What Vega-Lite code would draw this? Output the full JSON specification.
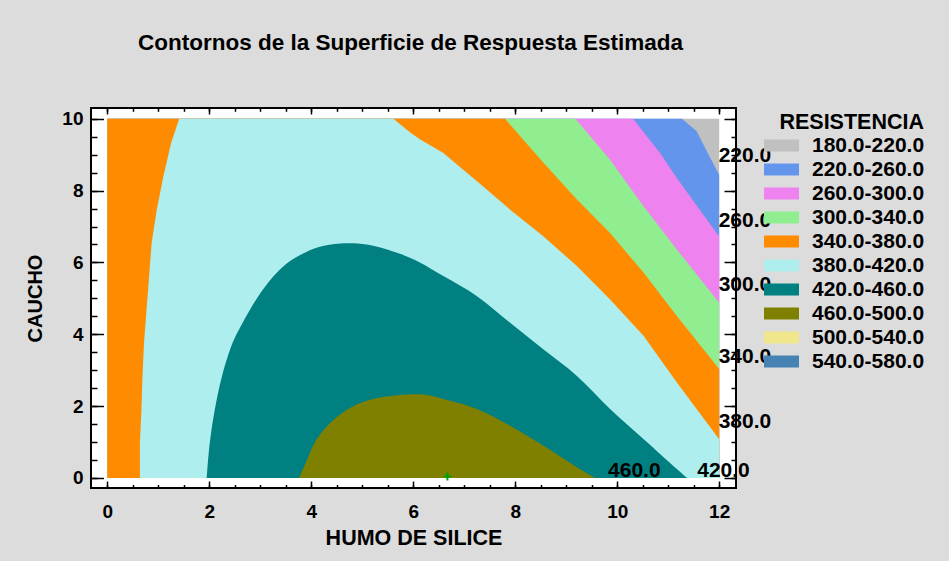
{
  "$schema": "https://vega.github.io/schema/vega-lite/v6.json",
  "width": 645,
  "height": 380,
  "autosize": {"type": "none"},
  "padding": {"left": 91, "top": 108, "right": 213, "bottom": 73},
  "background": "#dcdcdc",
  "title": {
    "text": "Contornos de la Superficie de Respuesta Estimada",
    "font": "Liberation Sans", "fontSize": 22.5, "fontWeight": "bold", "color": "black",
    "anchor": "middle", "baseline": "alphabetic", "offset": 35, "dx": -3
  },
  "config": {
    "view": {"fill": "white", "stroke": "black", "strokeWidth": 2},
    "axis": {
      "labelFont": "Liberation Sans", "labelFontSize": 19, "labelFontWeight": "bold", "labelColor": "black",
      "titleFont": "Liberation Sans", "titleFontSize": 20, "titleFontWeight": "bold", "titleColor": "black",
      "domain": false, "grid": false, "tickColor": "black", "tickWidth": 1.5, "labelFlush": false, "zindex": 1
    }
  },
  "layer": [
    {
      "data": {"values": [
        {"b": "180.0-220.0", "o": 0, "x": 0, "y": 0},
        {"b": "180.0-220.0", "o": 1, "x": 0, "y": 10},
        {"b": "180.0-220.0", "o": 2, "x": 12, "y": 10},
        {"b": "180.0-220.0", "o": 3, "x": 12, "y": 0},

        {"b": "220.0-260.0", "o": 0, "x": 0, "y": 0},
        {"b": "220.0-260.0", "o": 1, "x": 0, "y": 10},
        {"b": "220.0-260.0", "o": 2, "x": 11.27, "y": 10},
        {"b": "220.0-260.0", "o": 3, "x": 11.56, "y": 9.65},
        {"b": "220.0-260.0", "o": 4, "x": 11.76, "y": 9.09},
        {"b": "220.0-260.0", "o": 5, "x": 12, "y": 8.44},
        {"b": "220.0-260.0", "o": 6, "x": 12, "y": 0},

        {"b": "260.0-300.0", "o": 0, "x": 0, "y": 0},
        {"b": "260.0-300.0", "o": 1, "x": 0, "y": 10},
        {"b": "260.0-300.0", "o": 2, "x": 10.31, "y": 10},
        {"b": "260.0-300.0", "o": 3, "x": 10.84, "y": 9.05},
        {"b": "260.0-300.0", "o": 4, "x": 11.17, "y": 8.35},
        {"b": "260.0-300.0", "o": 5, "x": 11.5, "y": 7.7},
        {"b": "260.0-300.0", "o": 6, "x": 12, "y": 6.72},
        {"b": "260.0-300.0", "o": 7, "x": 12, "y": 0},

        {"b": "300.0-340.0", "o": 0, "x": 0, "y": 0},
        {"b": "300.0-340.0", "o": 1, "x": 0, "y": 10},
        {"b": "300.0-340.0", "o": 2, "x": 9.18, "y": 10},
        {"b": "300.0-340.0", "o": 3, "x": 9.86, "y": 8.86},
        {"b": "300.0-340.0", "o": 4, "x": 10.52, "y": 7.56},
        {"b": "300.0-340.0", "o": 5, "x": 11.17, "y": 6.36},
        {"b": "300.0-340.0", "o": 6, "x": 12, "y": 4.88},
        {"b": "300.0-340.0", "o": 7, "x": 12, "y": 0},

        {"b": "340.0-380.0", "o": 0, "x": 0, "y": 0},
        {"b": "340.0-380.0", "o": 1, "x": 0, "y": 10},
        {"b": "340.0-380.0", "o": 2, "x": 7.8, "y": 10},
        {"b": "340.0-380.0", "o": 3, "x": 8.55, "y": 8.78},
        {"b": "340.0-380.0", "o": 4, "x": 9.21, "y": 7.75},
        {"b": "340.0-380.0", "o": 5, "x": 9.86, "y": 6.82},
        {"b": "340.0-380.0", "o": 6, "x": 10.52, "y": 5.71},
        {"b": "340.0-380.0", "o": 7, "x": 11.17, "y": 4.51},
        {"b": "340.0-380.0", "o": 8, "x": 12, "y": 3.03},
        {"b": "340.0-380.0", "o": 9, "x": 12, "y": 0},

        {"b": "380.0-420.0", "o": 0, "x": 0.64, "y": 0},
        {"b": "380.0-420.0", "o": 1, "x": 0.64, "y": 0.99},
        {"b": "380.0-420.0", "o": 2, "x": 0.67, "y": 1.92},
        {"b": "380.0-420.0", "o": 3, "x": 0.69, "y": 2.84},
        {"b": "380.0-420.0", "o": 4, "x": 0.72, "y": 3.77},
        {"b": "380.0-420.0", "o": 5, "x": 0.77, "y": 4.69},
        {"b": "380.0-420.0", "o": 6, "x": 0.82, "y": 5.62},
        {"b": "380.0-420.0", "o": 7, "x": 0.87, "y": 6.55},
        {"b": "380.0-420.0", "o": 8, "x": 0.97, "y": 7.47},
        {"b": "380.0-420.0", "o": 9, "x": 1.1, "y": 8.4},
        {"b": "380.0-420.0", "o": 10, "x": 1.25, "y": 9.32},
        {"b": "380.0-420.0", "o": 11, "x": 1.41, "y": 10},
        {"b": "380.0-420.0", "o": 12, "x": 5.61, "y": 10},
        {"b": "380.0-420.0", "o": 13, "x": 5.94, "y": 9.62},
        {"b": "380.0-420.0", "o": 14, "x": 6.13, "y": 9.43},
        {"b": "380.0-420.0", "o": 15, "x": 6.59, "y": 9.05},
        {"b": "380.0-420.0", "o": 16, "x": 7.25, "y": 8.26},
        {"b": "380.0-420.0", "o": 17, "x": 7.9, "y": 7.47},
        {"b": "380.0-420.0", "o": 18, "x": 8.55, "y": 6.73},
        {"b": "380.0-420.0", "o": 19, "x": 9.21, "y": 5.9},
        {"b": "380.0-420.0", "o": 20, "x": 9.86, "y": 4.97},
        {"b": "380.0-420.0", "o": 21, "x": 10.52, "y": 3.95},
        {"b": "380.0-420.0", "o": 22, "x": 11.17, "y": 2.66},
        {"b": "380.0-420.0", "o": 23, "x": 12, "y": 1.08},
        {"b": "380.0-420.0", "o": 24, "x": 12, "y": 0}
      ]},
      "mark": {"type": "line", "stroke": "transparent", "strokeWidth": 1.5},
      "encoding": {
        "x": {"field": "x", "type": "quantitative",
          "scale": {"domain": [-0.32, 12.33], "nice": false, "zero": false},
          "axis": {"orient": "bottom", "values": [0, 2, 4, 6, 8, 10, 12], "format": "d", "tickSize": -7, "labelPadding": 21, "title": "HUMO DE SILICE", "titleFontSize": 21.5, "titlePadding": 6}},
        "y": {"field": "y", "type": "quantitative",
          "scale": {"domain": [-0.28, 10.3], "nice": false, "zero": false},
          "axis": {"orient": "left", "values": [0, 2, 4, 6, 8, 10], "format": "d", "tickSize": -12.5, "labelPadding": 20.5, "title": "CAUCHO", "titlePadding": 16}},
        "fill": {"field": "b", "type": "nominal",
          "scale": {
            "domain": ["180.0-220.0", "220.0-260.0", "260.0-300.0", "300.0-340.0", "340.0-380.0", "380.0-420.0", "420.0-460.0", "460.0-500.0", "500.0-540.0", "540.0-580.0"],
            "range": ["#c0c0c0", "#6495ed", "#ee82ee", "#90ee90", "#ff8c00", "#afeeee", "#008080", "#808000", "#f0e68c", "#4682b4"]
          },
          "legend": {
            "title": "RESISTENCIA", "orient": "right", "offset": 22, "padding": 4,
            "titleFont": "Liberation Sans", "titleFontSize": 21.5, "titleFontWeight": "bold", "titleColor": "black",
            "titleAnchor": "end", "titleAlign": "right", "titlePadding": 0,
            "labelFont": "Liberation Sans", "labelFontSize": 21, "labelFontWeight": "bold", "labelColor": "black",
            "labelOffset": 12, "clipHeight": 24, "rowPadding": 0, "labelLimit": 300,
            "symbolType": "M-1,-0.343H1V0.343H-1Z", "symbolSize": 1225,
            "symbolStrokeColor": "white", "symbolStrokeWidth": 1.5, "symbolOpacity": 1
          }},
        "order": {"field": "o", "type": "quantitative"}
      }
    },
    {
      "data": {"values": [
        {"b": "420.0-460.0", "o": 0, "x": 1.95, "y": 0},
        {"b": "420.0-460.0", "o": 1, "x": 2.01, "y": 0.99},
        {"b": "420.0-460.0", "o": 2, "x": 2.11, "y": 1.92},
        {"b": "420.0-460.0", "o": 3, "x": 2.25, "y": 2.84},
        {"b": "420.0-460.0", "o": 4, "x": 2.46, "y": 3.77},
        {"b": "420.0-460.0", "o": 5, "x": 2.62, "y": 4.23},
        {"b": "420.0-460.0", "o": 6, "x": 2.8, "y": 4.69},
        {"b": "420.0-460.0", "o": 7, "x": 3.01, "y": 5.16},
        {"b": "420.0-460.0", "o": 8, "x": 3.25, "y": 5.6},
        {"b": "420.0-460.0", "o": 9, "x": 3.5, "y": 5.95},
        {"b": "420.0-460.0", "o": 10, "x": 3.8, "y": 6.22},
        {"b": "420.0-460.0", "o": 11, "x": 4.15, "y": 6.43},
        {"b": "420.0-460.0", "o": 12, "x": 4.57, "y": 6.53},
        {"b": "420.0-460.0", "o": 13, "x": 5.09, "y": 6.5},
        {"b": "420.0-460.0", "o": 14, "x": 5.74, "y": 6.24},
        {"b": "420.0-460.0", "o": 15, "x": 6.13, "y": 6.0},
        {"b": "420.0-460.0", "o": 16, "x": 6.59, "y": 5.62},
        {"b": "420.0-460.0", "o": 17, "x": 7.25, "y": 5.06},
        {"b": "420.0-460.0", "o": 18, "x": 7.9, "y": 4.32},
        {"b": "420.0-460.0", "o": 19, "x": 8.55, "y": 3.58},
        {"b": "420.0-460.0", "o": 20, "x": 9.21, "y": 2.84},
        {"b": "420.0-460.0", "o": 21, "x": 9.86, "y": 1.92},
        {"b": "420.0-460.0", "o": 22, "x": 10.52, "y": 1.08},
        {"b": "420.0-460.0", "o": 23, "x": 11.17, "y": 0.25},
        {"b": "420.0-460.0", "o": 24, "x": 11.37, "y": 0},

        {"b": "460.0-500.0", "o": 0, "x": 3.76, "y": 0},
        {"b": "460.0-500.0", "o": 1, "x": 3.9, "y": 0.45},
        {"b": "460.0-500.0", "o": 2, "x": 4.07, "y": 0.99},
        {"b": "460.0-500.0", "o": 3, "x": 4.35, "y": 1.5},
        {"b": "460.0-500.0", "o": 4, "x": 4.7, "y": 1.9},
        {"b": "460.0-500.0", "o": 5, "x": 5.15, "y": 2.18},
        {"b": "460.0-500.0", "o": 6, "x": 5.74, "y": 2.31},
        {"b": "460.0-500.0", "o": 7, "x": 6.2, "y": 2.32},
        {"b": "460.0-500.0", "o": 8, "x": 6.59, "y": 2.2},
        {"b": "460.0-500.0", "o": 9, "x": 7.25, "y": 1.92},
        {"b": "460.0-500.0", "o": 10, "x": 7.9, "y": 1.45},
        {"b": "460.0-500.0", "o": 11, "x": 8.55, "y": 0.9},
        {"b": "460.0-500.0", "o": 12, "x": 9.21, "y": 0.3},
        {"b": "460.0-500.0", "o": 13, "x": 9.57, "y": 0}
      ]},
      "mark": {"type": "line", "stroke": "transparent", "strokeWidth": 1.5, "interpolate": "catmull-rom"},
      "encoding": {
        "x": {"field": "x", "type": "quantitative",
          "scale": {"domain": [-0.32, 12.33], "nice": false, "zero": false}, "axis": null},
        "y": {"field": "y", "type": "quantitative",
          "scale": {"domain": [-0.28, 10.3], "nice": false, "zero": false}, "axis": null},
        "fill": {"field": "b", "type": "nominal"},
        "order": {"field": "o", "type": "quantitative"}
      }
    },
    {
      "data": {"values": [
        {"t": "220.0", "x": 11.99, "y": 8.95},
        {"t": "260.0", "x": 11.99, "y": 7.14},
        {"t": "300.0", "x": 11.99, "y": 5.36},
        {"t": "340.0", "x": 11.99, "y": 3.36},
        {"t": "380.0", "x": 11.99, "y": 1.56}
      ]},
      "mark": {"type": "text", "align": "left", "baseline": "middle", "font": "Liberation Sans", "fontSize": 21, "fontWeight": "bold", "color": "black"},
      "encoding": {
        "x": {"field": "x", "type": "quantitative",
          "scale": {"domain": [-0.32, 12.33], "nice": false, "zero": false},
          "axis": {"orient": "bottom", "values": [0, 0.5, 1, 1.5, 2, 2.5, 3, 3.5, 4, 4.5, 5, 5.5, 6, 6.5, 7, 7.5, 8, 8.5, 9, 9.5, 10, 10.5, 11, 11.5, 12], "tickSize": -3.5, "labels": false, "title": null}},
        "y": {"field": "y", "type": "quantitative",
          "scale": {"domain": [-0.28, 10.3], "nice": false, "zero": false},
          "axis": {"orient": "left", "values": [0, 0.5, 1, 1.5, 2, 2.5, 3, 3.5, 4, 4.5, 5, 5.5, 6, 6.5, 7, 7.5, 8, 8.5, 9, 9.5, 10], "tickSize": -6, "labels": false, "title": null}},
        "text": {"field": "t", "type": "nominal"}
      }
    },
    {
      "data": {"values": [
        {"t": "460.0", "x": 9.82, "y": 0.18},
        {"t": "420.0", "x": 11.57, "y": 0.18}
      ]},
      "mark": {"type": "text", "align": "left", "baseline": "middle", "font": "Liberation Sans", "fontSize": 21, "fontWeight": "bold", "color": "black"},
      "encoding": {
        "x": {"field": "x", "type": "quantitative",
          "scale": {"domain": [-0.32, 12.33], "nice": false, "zero": false},
          "axis": {"orient": "top", "values": [0, 2, 4, 6, 8, 10, 12], "tickSize": -6, "labels": false, "title": null}},
        "y": {"field": "y", "type": "quantitative",
          "scale": {"domain": [-0.28, 10.3], "nice": false, "zero": false},
          "axis": {"orient": "right", "values": [0, 2, 4, 6, 8, 10], "tickSize": -12, "labels": false, "title": null}},
        "text": {"field": "t", "type": "nominal"}
      }
    },
    {
      "data": {"values": [
        {"x": 6.67, "y": 0.04}
      ]},
      "mark": {"type": "point", "shape": "M-1,0H1M0,-1V1", "size": 64, "filled": false, "stroke": "#00a000", "strokeWidth": 2, "opacity": 1},
      "encoding": {
        "x": {"field": "x", "type": "quantitative",
          "scale": {"domain": [-0.32, 12.33], "nice": false, "zero": false},
          "axis": {"orient": "top", "values": [0, 0.5, 1, 1.5, 2, 2.5, 3, 3.5, 4, 4.5, 5, 5.5, 6, 6.5, 7, 7.5, 8, 8.5, 9, 9.5, 10, 10.5, 11, 11.5, 12], "tickSize": -3.3, "labels": false, "title": null}},
        "y": {"field": "y", "type": "quantitative",
          "scale": {"domain": [-0.28, 10.3], "nice": false, "zero": false},
          "axis": {"orient": "right", "values": [0, 0.5, 1, 1.5, 2, 2.5, 3, 3.5, 4, 4.5, 5, 5.5, 6, 6.5, 7, 7.5, 8, 8.5, 9, 9.5, 10], "tickSize": -5, "labels": false, "title": null}}
      }
    }
  ],
  "resolve": {"axis": {"x": "independent", "y": "independent"}}
}
